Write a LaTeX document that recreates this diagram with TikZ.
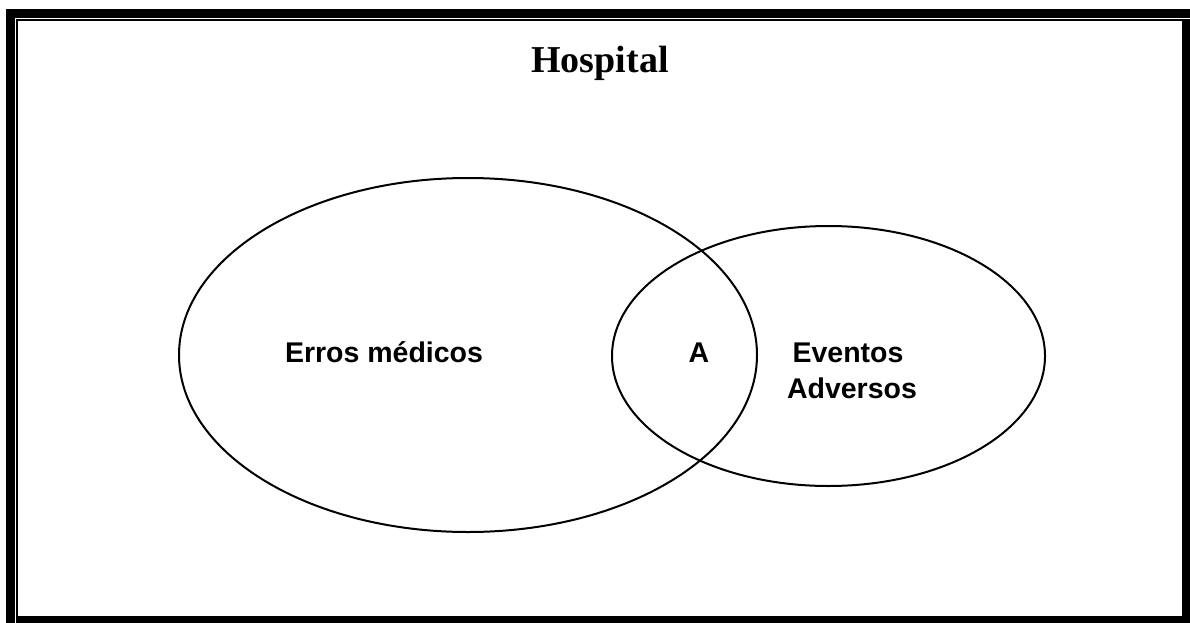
\documentclass[tikz,border=0pt]{standalone}
\usepackage{fontspec}
\setmainfont{Liberation Serif}
\setsansfont{Liberation Sans}
\usetikzlibrary{positioning}

\begin{document}
\begin{tikzpicture}[x=1pt,y=-1pt,
  conj/.style={line width=2pt},
  rotulo/.style={font=\sffamily\bfseries\fontsize{28.5}{34}\selectfont, anchor=base, inner sep=0pt}]
\useasboundingbox (0,0) rectangle (1190,623);
% moldura
\fill (6,9) rectangle (1190,18);
\fill (6,9) rectangle (15,623);
\fill (16,19) rectangle (1182,21);
\fill (16,19) rectangle (18,623);
\fill (1182,19) rectangle (1190,623);
\fill (18,616) rectangle (1190,623);
\node[font=\bfseries\fontsize{38}{40}\selectfont, anchor=base, inner sep=0pt] (hosp) at (600,73) {Hospital};
%conjuntos
\draw[conj] (468,355) ellipse [x radius=289, y radius=177];
\draw[conj] (828.5,356) ellipse [x radius=216.5, y radius=130];
\node[rotulo] (erros) at (384,362) {Erros médicos};
\node[rotulo] (a) at (699,362) {A};
\node[rotulo] (ev) at (848,362) {Eventos};
\node[rotulo] (adv) at (852,398) {Adversos};
\end{tikzpicture}
\end{document}
